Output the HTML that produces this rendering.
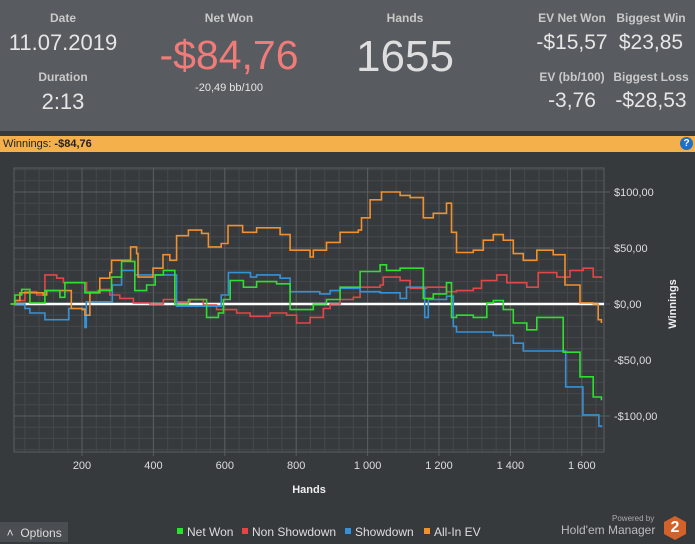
<!DOCTYPE html>
<html><head><meta charset="utf-8">
<style>
body{margin:0;width:695px;height:542px;overflow:hidden;background:#373a3d;font-family:"Liberation Sans",sans-serif;}
#header{position:absolute;left:0;top:0;width:695px;height:131px;background:#585b5f;}
.lab{position:absolute;color:#c9c9c9;font-size:12px;font-weight:bold;transform:translateX(-50%);white-space:nowrap;}
.val{position:absolute;color:#e6e6e6;transform:translateX(-50%);white-space:nowrap;}
#bar{position:absolute;left:0;top:136px;width:695px;height:16px;background:#f4b04a;font-size:11px;line-height:16px;color:#222;}
svg{position:absolute;left:0;top:0;}
</style></head><body>
<div id="header">
<div class="lab" style="left:63px;top:11px">Date</div>
<div class="val" style="left:63px;top:30px;font-size:22px">11.07.2019</div>
<div class="lab" style="left:63px;top:70px">Duration</div>
<div class="val" style="left:63px;top:89px;font-size:22px">2:13</div>
<div class="lab" style="left:229px;top:11px">Net Won</div>
<div class="val" style="left:229px;top:32px;font-size:41px;color:#f17b78">-$84,76</div>
<div class="val" style="left:229px;top:82px;font-size:11px">-20,49 bb/100</div>
<div class="lab" style="left:405px;top:11px">Hands</div>
<div class="val" style="left:405px;top:32px;font-size:44px;color:#dedede">1655</div>
<div class="lab" style="left:572px;top:11px">EV Net Won</div>
<div class="val" style="left:572px;top:31px;font-size:21px">-$15,57</div>
<div class="lab" style="left:651px;top:11px">Biggest Win</div>
<div class="val" style="left:651px;top:31px;font-size:21px">$23,85</div>
<div class="lab" style="left:572px;top:70px">EV (bb/100)</div>
<div class="val" style="left:572px;top:89px;font-size:21px">-3,76</div>
<div class="lab" style="left:651px;top:70px">Biggest Loss</div>
<div class="val" style="left:651px;top:89px;font-size:21px">-$28,53</div>
</div>
<div id="bar">&nbsp;Winnings:&nbsp;<b>-$84,76</b>
<span style="position:absolute;right:2px;top:1px;width:13px;height:13px;border-radius:50%;background:#1f6fc4;color:#fff;font-size:10px;line-height:13px;text-align:center;font-weight:bold">?</span></div>
<svg id="chart" width="695" height="542"></svg>
<div style="position:absolute;left:0;top:522px;width:68px;height:20px;background:#4a4d51;color:#ddd;font-size:12px;line-height:22px">&nbsp;&nbsp;˄&nbsp;&nbsp;Options</div>
<div style="position:absolute;left:612px;top:514px;color:#aaa;font-size:8px">Powered by</div>
<div style="position:absolute;left:561px;top:523px;color:#bbb;font-size:12px">Hold'em Manager</div>
<div style="position:absolute;left:664px;top:516px;width:22px;height:24px;background:#d2622a;color:#fff;font-weight:bold;font-size:16px;text-align:center;line-height:24px;clip-path:polygon(50% 0,100% 25%,100% 75%,50% 100%,0 75%,0 25%)">2</div>
<script>
const xTicks=[200,400,600,800,1000,1200,1400,1600];
const xTickLabels=["200","400","600","800","1 000","1 200","1 400","1 600"];
const yTicks=[100,50,0,-50,-100];
const yTickLabels=["$100,00","$50,00","$0,00","-$50,00","-$100,00"];
const evHands=[0,12,26,54,91,101,150,163,170,200,208,222,250,278,283,314,336,353,357,399,427,446,465,498,535,554,590,609,650,689,745,755,783,839,848,885,923,974,983,1007,1039,1091,1119,1156,1184,1221,1235,1249,1296,1324,1352,1380,1408,1436,1474,1520,1553,1595,1632,1646,1655];
const evVals=[0,3,10,10,8,12,12,12,-4,-5,-10,10,23,28,39,39,51,45,24,32,44,39,61,66,63,51,54,70,64,68,68,62,48,42,48,55,64,66,77,93,100,97,95,77,81,90,64,46,48,57,62,57,45,39,48,44,17,1,0,-14,-17];
const netHands=[0,12,31,54,92,96,138,152,194,208,246,283,311,348,381,405,428,460,498,549,582,596,615,652,689,745,783,811,848,885,923,979,1035,1053,1091,1109,1156,1184,1221,1235,1249,1296,1334,1352,1380,1408,1446,1474,1548,1595,1632,1655];
const netVals=[0,8,13,1,1,12,6,19,19,10,12,24,38,12,17,26,30,0,4,-12,-8,4,21,15,20,18,-5,-5,0,4,15,29,35,30,32,32,5,9,19,-12,-10,-12,1,3,-5,-17,-23,-12,-43,-65,-83,-86];
const nsdHands=[0,12,40,73,96,129,148,162,213,250,278,306,344,390,428,465,503,540,577,633,671,727,773,801,839,876,895,923,960,979,1035,1044,1091,1119,1165,1221,1249,1296,1319,1362,1390,1446,1478,1530,1567,1604,1632,1655];
const nsdVals=[0,3,11,8,26,23,19,19,11,13,8,5,1,0,4,2,4,-1,-5,-8,-11,-8,-10,-17,-12,-4,0,4,6,15,17,24,21,14,15,11,12,14,21,26,19,15,28,24,30,32,24,23];
const sdHands=[0,12,40,54,96,152,163,205,208,212,246,283,285,311,348,460,465,587,590,610,672,689,755,783,811,866,895,923,979,1035,1091,1109,1156,1160,1170,1221,1240,1249,1296,1352,1408,1436,1553,1555,1600,1603,1646,1648,1655];
const sdVals=[0,0,-4,-8,-14,-14,-4,-4,-21,2,2,2,17,30,26,26,-2,-2,8,28,24,26,23,11,11,9,12,14,11,10,5,15,15,-12,4,7,-20,-25,-25,-28,-35,-42,-42,-74,-74,-99,-99,-109,-110];

const NS="http://www.w3.org/2000/svg";
const svg=document.getElementById('chart');
const L=14,R=604,T=168,B=452;
const xS=h=>10.6+h*0.357;
const yS=v=>304-v*1.12;
function mk(t,a){const e=document.createElementNS(NS,t);for(const k in a)e.setAttribute(k,a[k]);svg.appendChild(e);return e;}
for(let h=40;h<1660;h+=40){const x=xS(h);if(x>L&&x<R){const l=mk('line',{x1:x,x2:x,y1:T,y2:B,stroke:'#45484c','stroke-width':1});

}}
for(let v=-130;v<=120;v+=10){const y=yS(v);if(y>T&&y<B){const l=mk('line',{x1:L,x2:R,y1:y,y2:y,stroke:'#45484c','stroke-width':1});

}}
xTicks.forEach((t,i)=>{const x=xS(t);const l=mk('line',{x1:x,x2:x,y1:T,y2:B+4,stroke:'#5a5d61','stroke-width':1});


const tx=mk('text',{x:x,y:469,fill:'#ddd','font-size':11,'text-anchor':'middle'});tx.textContent=xTickLabels[i];

});
yTicks.forEach((t,i)=>{const y=yS(t);const l=mk('line',{x1:L,x2:R+6,y1:y,y2:y,stroke:'#5a5d61','stroke-width':1});


const tx=mk('text',{x:614,y:y+4,fill:'#ddd','font-size':11});tx.textContent=yTickLabels[i];

});
const bx=mk('rect',{x:L,y:T,width:R-L,height:B-T,fill:'none',stroke:'#5a5d61'});


const zl=mk('line',{x1:L,x2:R,y1:yS(0),y2:yS(0),stroke:'#fff','stroke-width':2.5});


function series(hs,vs,col,name){const pts=[];
hs.forEach((h,i)=>{const x=xS(h).toFixed(1);if(i>0)pts.push(x+','+yS(vs[i-1]).toFixed(1));pts.push(x+','+yS(vs[i]).toFixed(1));});
const e=mk('polyline',{points:pts.join(' '),fill:'none',stroke:col,'stroke-width':1.6});

}
series(nsdHands,nsdVals,'#e04848','non-showdown-line');
series(sdHands,sdVals,'#3591d8','showdown-line');
series(evHands,evVals,'#f0902e','all-in-ev-line');
series(netHands,netVals,'#2ee02e','net-won-line');
const xt=mk('text',{x:309,y:493,fill:'#eee','font-size':11,'font-weight':'bold','text-anchor':'middle'});xt.textContent='Hands';


const yt=mk('text',{x:676,y:304,fill:'#eee','font-size':11,'font-weight':'bold','text-anchor':'middle',transform:'rotate(-90 676 304)'});yt.textContent='Winnings';


const leg=[['Net Won','#2ee02e',177],['Non Showdown','#e04848',242],['Showdown','#3591d8',345],['All-In EV','#f0902e',424]];
leg.forEach(l=>{const r=mk('rect',{x:l[2],y:528,width:6,height:6,fill:l[1]});


const t=mk('text',{x:l[2]+10,y:536,fill:'#ddd','font-size':12});t.textContent=l[0];

});
</script>
</body></html>
